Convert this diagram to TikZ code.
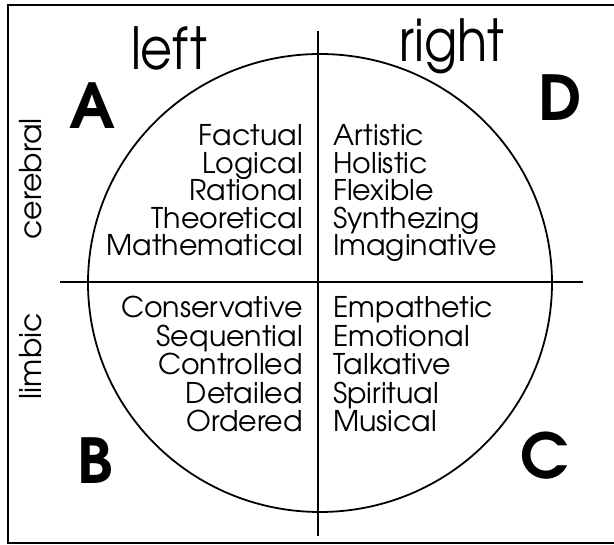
\documentclass[tikz,border=0pt]{standalone}
\usepackage{fontspec}
\setmainfont{TeX Gyre Adventor}
\newfontfamily\titlefont[FakeStretch=0.85]{TeX Gyre Adventor}
\begin{document}
\begin{tikzpicture}[x=1pt,y=-1pt,
  frame/.style={line width=1.4pt},
  axis/.style={line width=1.8pt},
  title/.style={font=\titlefont\fontsize{58}{58}\selectfont, inner sep=0pt},
  big/.style={font=\fontsize{62}{62}\selectfont\bfseries, inner sep=0pt},
  side/.style={font=\fontsize{30}{30}\selectfont, inner sep=0pt, rotate=90},
  words/.style={font=\fontsize{28.5}{28.5}\selectfont, inner sep=0pt}]
\useasboundingbox (0,0) rectangle (614,545);
% frame (open on the right)
\draw[frame] (614,5) -- (8,5) -- (8,543) -- (614,543);
% circle and axes
\coordinate (O) at (320,283);
\draw[axis] (O) ellipse [x radius=232pt, y radius=229pt];
\coordinate (vt) at (318,31);
\coordinate (vb) at (318,536);
\coordinate (hl) at (60,282);
\coordinate (hr) at (583,282);
\draw[axis] (vt) -- (vb);
\draw[axis] (hl) -- (hr);
% titles
\node[title, anchor=base] (left) at (169,70) {left};
\node[title, anchor=base] (right) at (452,62) {right};
\node[side] (cer) at (31,179) {cerebral};
\node[side] (lim) at (31,356) {limbic};
% quadrant letters
\node[big] (A) at (92,106) {A};
\node[big] (D) at (560,98) {D};
\node[big] (B) at (95,461) {B};
\node[big] (C) at (545,456) {C};
% words
\foreach \w [count=\i] in {Factual,Logical,Rational,Theoretical,Mathematical}
  \node[words, anchor=base east] (tl\i) at (303,{146+(\i-1)*27.5}) {\w};
\foreach \w [count=\i] in {Artistic,Holistic,Flexible,Synthezing,Imaginative}
  \node[words, anchor=base west] (tr\i) at (333,{146+(\i-1)*27.5}) {\w};
\foreach \w [count=\i] in {Conservative,Sequential,Controlled,Detailed,Ordered}
  \node[words, anchor=base east] (bl\i) at (303,{318+(\i-1)*28.5}) {\w};
\foreach \w [count=\i] in {Empathetic,Emotional,Talkative,Spiritual,Musical}
  \node[words, anchor=base west] (br\i) at (333,{318+(\i-1)*28.5}) {\w};
\end{tikzpicture}
\end{document}
